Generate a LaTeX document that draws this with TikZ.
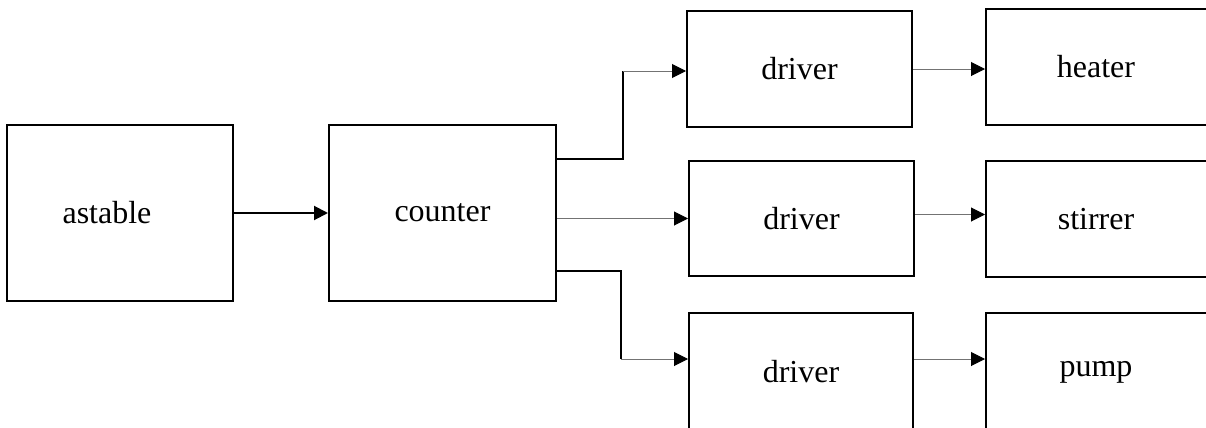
\documentclass[tikz,border=0pt]{standalone}
\usepackage{fontspec}
\setmainfont{Liberation Serif}
\usetikzlibrary{arrows.meta}
\tikzset{
  block/.style={draw,line width=1pt,rectangle,inner sep=0pt,
    font=\fontsize{16}{19}\selectfont},
  wire/.style={line width=1pt},
  thinwire/.style={line width=0.5pt,draw=black!55},
  tip/.style={-{Triangle[length=7pt,width=7pt,fill=black,color=black]}}
}
\begin{document}
\begin{tikzpicture}[x=0.5pt,y=-0.5pt]
  \useasboundingbox (0,0) rectangle (1206,428);
  % blocks
  \node[block,minimum width=113pt,minimum height=88pt] (astable) at (120,213) {astable\hspace*{13pt}};
  \node[block,minimum width=113.5pt,minimum height=88pt] (counter) at (442.5,213) {counter};
  \node[block,minimum width=112.5pt,minimum height=58pt] (driver1) at (799.5,69) {driver};
  \node[block,minimum width=112.5pt,minimum height=57.5pt] (driver2) at (801.5,218.5) {driver};
  \node[block,minimum width=112pt,minimum height=59pt] (driver3) at (801,372) {driver};
  \node[block,minimum width=116pt,minimum height=58pt] (heater) at (1102,67) {heater\hspace*{6pt}};
  \node[block,minimum width=116pt,minimum height=58pt] (stirrer) at (1102,219) {stirrer\hspace*{6pt}};
  \node[block,minimum width=116pt,minimum height=59pt] (pump) at (1102,372) {pump\hspace*{6pt}};
  % bends
  \coordinate (bend1) at (623,71);
  \coordinate (bend3) at (621,359);
  % connectors
  \draw[wire,tip] (astable) -- (counter);
  \draw[wire] ([yshift=27pt]counter.east) -| (bend1);
  \draw[thinwire,tip] (bend1) -- (bend1 -| driver1.west);
  \draw[thinwire,tip] (counter.east |- driver2.west) -- (driver2.west);
  \draw[wire] ([yshift=-29pt]counter.east) -| (bend3);
  \draw[thinwire,tip] (bend3) -- (bend3 -| driver3.west);
  \draw[thinwire,tip] (driver1.east) -- (driver1.east -| heater.west);
  \draw[thinwire,tip] ([yshift=2pt]driver2.east) -- ([yshift=2pt]driver2.east -| stirrer.west);
  \draw[thinwire,tip] (bend3 -| driver3.east) -- (bend3 -| pump.west);
\end{tikzpicture}
\end{document}
